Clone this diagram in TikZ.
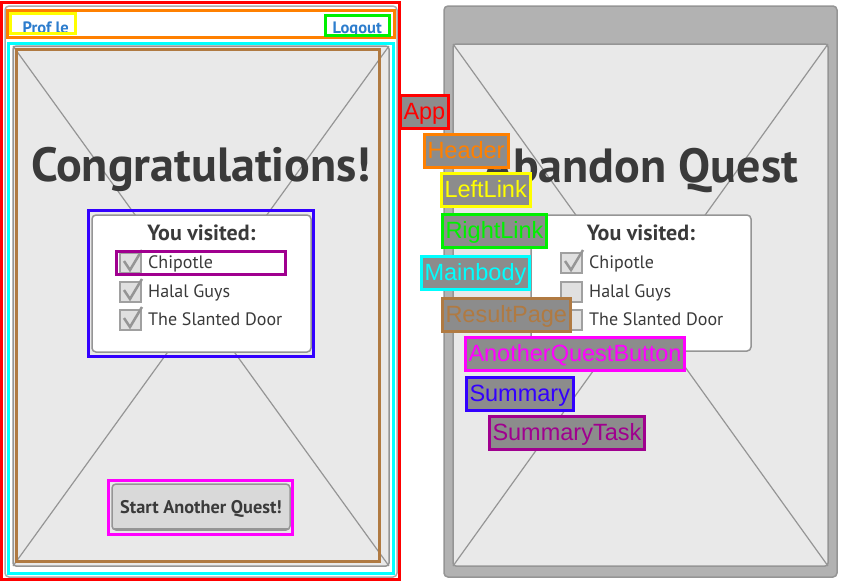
\documentclass[tikz,border=0pt]{standalone}
\usepackage{fontspec}
\setmainfont{PT Sans}
\newfontfamily\tagfont{Liberation Sans}
\definecolor{tagfill}{HTML}{8C8C8C}
\definecolor{inkgray}{HTML}{3A3A3A}
\definecolor{linegray}{HTML}{959595}
\definecolor{phfill}{HTML}{E9E9E9}
\definecolor{linkblue}{HTML}{2D7DCD}
\definecolor{appred}{HTML}{FF0000}
\definecolor{headorange}{HTML}{FF8000}
\definecolor{leftyellow}{HTML}{FFFF00}
\definecolor{rightgreen}{HTML}{00F000}
\definecolor{maincyan}{HTML}{00FFFF}
\definecolor{resultbrown}{HTML}{B07A42}
\definecolor{questmagenta}{HTML}{FF00FF}
\definecolor{summaryblue}{HTML}{3300FF}
\definecolor{taskpurple}{HTML}{A0008F}

\begin{document}
\begin{tikzpicture}[x=1pt,y=-1pt,
    wrap/.style={draw=#1, line width=3pt},
    tag/.style={draw=#1, text=#1, fill=tagfill, line width=3pt, anchor=north west,
      font=\tagfont\fontsize{23.5}{24}\selectfont, inner xsep=3.5pt, inner ysep=0pt,
      minimum height=33pt, text height=17pt, text depth=1.6pt},
    holder/.style={draw=linegray, fill=phfill, line width=1.5pt, rounded corners=3pt},
    cross/.style={draw=linegray, line width=1.2pt},
    card/.style={draw=linegray, fill=white, line width=1.5pt, rounded corners=4pt},
    word/.style={text=inkgray, inner sep=0pt, anchor=base west, font=\fontsize{18}{20}\selectfont},
    boxtick/.style={draw=linegray!90, fill=black!12, line width=1.5pt}]
    \useasboundingbox (0,0) rectangle (843,582);

    % Left screen
    \draw[draw=linegray!80, fill=white, line width=1.5pt, rounded corners=4pt] (5,6) rectangle (397,577);
    \draw[holder] (13,46) rectangle (389,566);
    \draw[cross] (13,46) -- (389,566) (389,46) -- (13,566);
    \node[text=linkblue, inner sep=0pt, anchor=base west, font=\bfseries\fontsize{16.5}{17}\selectfont] (profile) at (22.5,33.3) {Prof le};
    \node[text=linkblue, inner sep=0pt, anchor=base west, font=\bfseries\fontsize{16.5}{17}\selectfont] (logout) at (332.5,33.3) {Logout};
    \node[text=inkgray, inner sep=0pt, anchor=base, font=\bfseries\fontsize{48}{50}\selectfont] (congrats) at (201,181.5) {Congratulations!};
    \draw[card] (92,215) rectangle (311,352);
    \node[text=inkgray, inner sep=0pt, anchor=base, font=\bfseries\fontsize{22}{24}\selectfont] (visitedL) at (201.5,240) {You visited:};
    \foreach \y/\place in {253/Chipotle, 282/Halal Guys, 310/The Slanted Door}{
      \draw[boxtick] (120,\y) rectangle (141,\y+20);
      \draw[linegray, line width=2.5pt] (124,\y+8) -- (130,\y+17) -- (142,\y-3);
      \node[word] at (148,\y+15.3) {\place};
    }
    \draw[draw=linegray, fill=black!15, line width=1.5pt, rounded corners=4pt] (112,484) rectangle (290,530);
    \draw[linegray, line width=2pt] (114,529) -- (288,529);
    \node[text=inkgray, inner sep=0pt, anchor=base, font=\bfseries\fontsize{18.3}{20}\selectfont] (another) at (201,513.3) {Start Another Quest!};

    % Component outlines
    \draw[wrap=appred] (1.5,2.5) rectangle (399.5,579.5);
    \draw[wrap=headorange] (7.5,10.5) rectangle (394.5,37.5);
    \draw[wrap=leftyellow] (10.5,13.5) rectangle (75.5,33.5);
    \draw[wrap=rightgreen] (325.5,15.5) rectangle (389.5,35.5);
    \draw[wrap=maincyan] (8.5,43.5) rectangle (393.5,573.5);
    \draw[wrap=resultbrown] (16.5,49.5) rectangle (379.5,561.5);
    \draw[wrap=summaryblue] (88.5,210.5) rectangle (313.5,356.5);
    \draw[wrap=taskpurple] (116.5,251.5) rectangle (285.5,274.5);
    \draw[wrap=questmagenta] (108.5,480.5) rectangle (292.5,534.5);

    % Right screen
    \draw[draw=linegray, fill=black!30, line width=1.5pt, rounded corners=4pt] (444,6) rectangle (837,577);
    \draw[holder] (453,44) rectangle (828,566);
    \draw[cross] (453,44) -- (828,566) (828,44) -- (453,566);
    \node[text=inkgray, inner sep=0pt, anchor=base, font=\bfseries\fontsize{48}{50}\selectfont] (abandon) at (641,182) {Abandon Quest};
    \draw[card] (531,215) rectangle (751,351);
    \node[text=inkgray, inner sep=0pt, anchor=base, font=\bfseries\fontsize{22}{24}\selectfont] (visitedR) at (641,240) {You visited:};
    \foreach \y/\place/\ticked in {253/Chipotle/1, 282/Halal Guys/0, 310/The Slanted Door/0}{
      \draw[boxtick] (561,\y) rectangle (582,\y+20);
      \ifnum\ticked=1
        \draw[linegray, line width=2.5pt] (565,\y+8) -- (571,\y+17) -- (583,\y-3);
      \fi
      \node[word] at (589,\y+15.3) {\place};
    }

    % Labels
    \node[tag=appred] (app) at (398.5,93.5) {App};
    \node[tag=headorange] (header) at (422.5,132.5) {Header};
    \node[tag=leftyellow] (leftlink) at (439.5,171.5) {LeftLink};
    \node[tag=rightgreen] (rightlink) at (440.5,212.5) {RightLink};
    \node[tag=maincyan] (mainbody) at (419.5,254.5) {Mainbody};
    \node[tag=resultbrown] (resultpage) at (440.5,296.5) {ResultPage};
    \node[tag=questmagenta] (questbutton) at (463.5,335.5) {AnotherQuestButton};
    \node[tag=summaryblue] (summary) at (464.5,375.5) {Summary};
    \node[tag=taskpurple] (summarytask) at (487.5,414.5) {SummaryTask};
\end{tikzpicture}
\end{document}
